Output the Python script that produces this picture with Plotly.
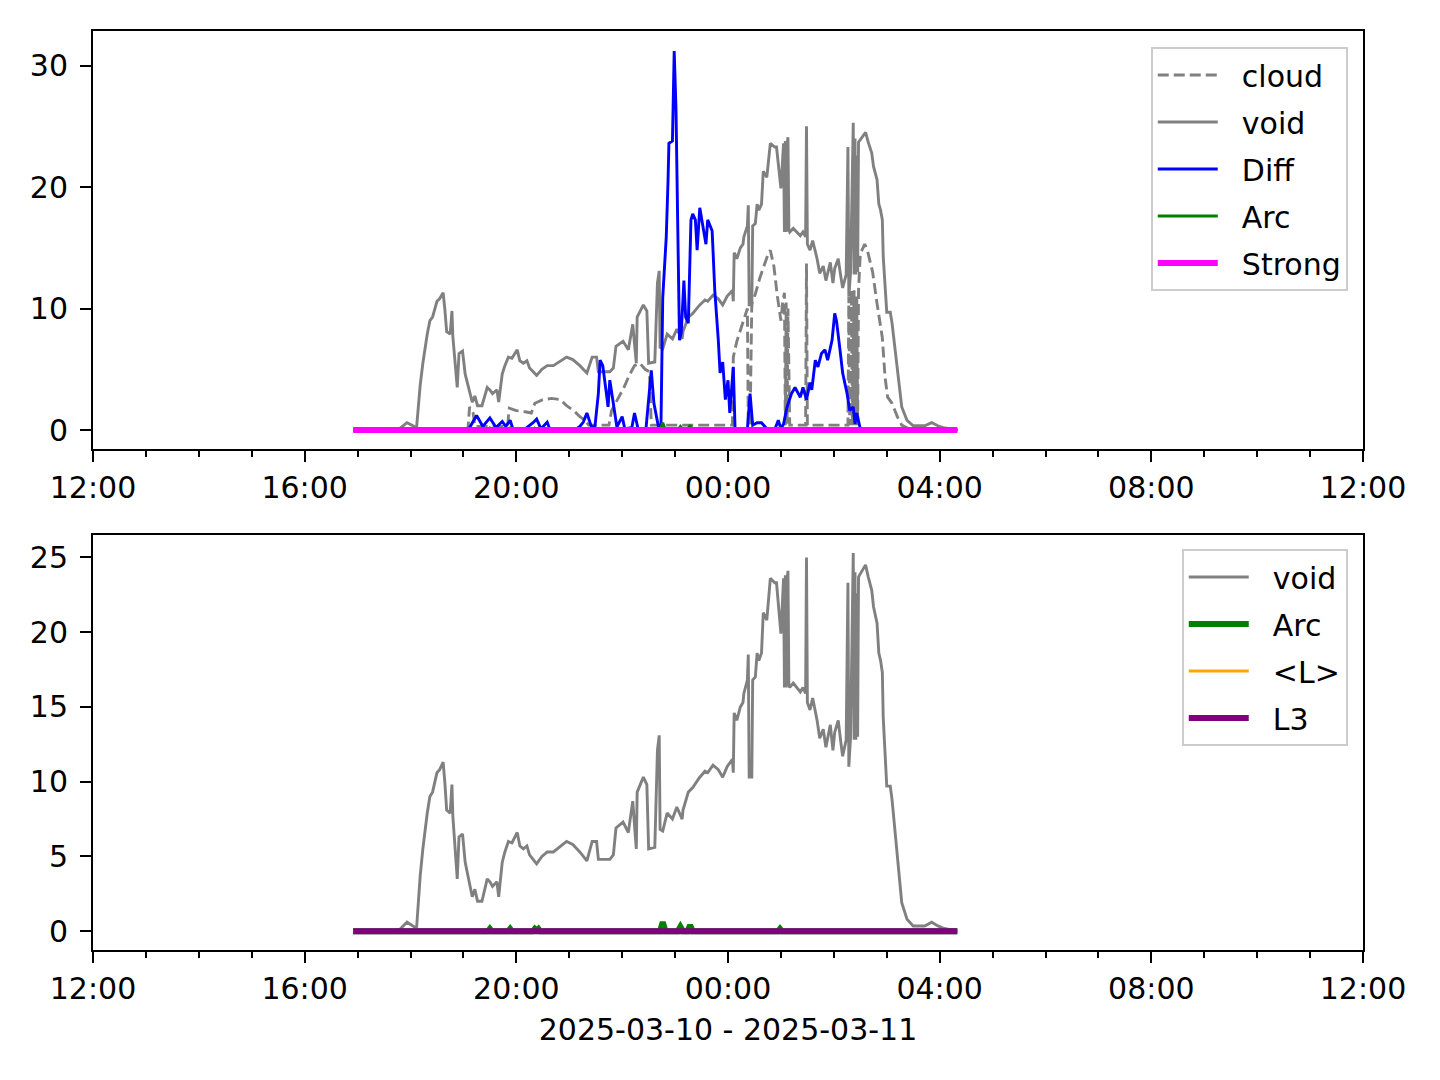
import plotly.graph_objects as go
from datetime import datetime

# ---------------- data ----------------
void_t = ["16:55", "17:40", "17:48", "17:56", "18:05", "18:07", "18:11", "18:14", "18:19", "18:22",
          "18:25", "18:30", "18:33", "18:37", "18:39", "18:41", "18:45", "18:47", "18:48", "18:50",
          "18:53", "18:55", "18:59", "19:02", "19:05", "19:10", "19:13", "19:16", "19:21", "19:27",
          "19:30", "19:33", "19:38", "19:40", "19:44", "19:47", "19:51", "19:55", "20:01", "20:04",
          "20:08", "20:12", "20:15", "20:19", "20:23", "20:29", "20:35", "20:42", "20:49", "20:57",
          "21:04", "21:12", "21:20", "21:26", "21:31", "21:33", "21:46", "21:50", "21:53", "22:01",
          "22:07", "22:11", "22:12", "22:16", "22:17", "22:24", "22:28", "22:30", "22:37", "22:40",
          "22:42", "22:43", "22:46", "22:51", "22:57", "23:02", "23:08", "23:09", "23:15", "23:20",
          "23:28", "23:34", "23:37", "23:43", "23:49", "23:54", "23:59", "00:05", "00:06", "00:07",
          "00:10", "00:14", "00:17", "00:18", "00:22", "00:23", "00:24", "00:27", "00:28", "00:31",
          "00:33", "00:35", "00:38", "00:40", "00:44", "00:48", "00:53", "00:55", "01:00", "01:03",
          "01:04", "01:05", "01:06", "01:07", "01:08", "01:09", "01:10", "01:14", "01:18", "01:22",
          "01:25", "01:28", "01:29", "01:30", "01:33", "01:36", "01:41", "01:44", "01:48", "01:51",
          "01:56", "01:59", "02:01", "02:05", "02:08", "02:10", "02:14", "02:16", "02:17", "02:19",
          "02:22", "02:23", "02:24", "02:25", "02:26", "02:27", "02:28", "02:30", "02:33", "02:36",
          "02:39", "02:43", "02:45", "02:49", "02:51", "02:53", "02:55", "02:56", "03:00", "03:04",
          "03:06", "03:09", "03:13", "03:15", "03:17", "03:23", "03:30", "03:43", "03:51", "03:58",
          "04:04", "04:20"]
void_v = [0.0, 0.0, 0.13, 0.6, 0.27, 0.3, 3.7, 5.5, 7.9, 9.0,
          9.3, 10.6, 10.8, 11.3, 9.9, 8.1, 7.9, 9.8, 7.7, 5.7,
          3.5, 6.3, 6.5, 4.6, 3.7, 2.3, 2.8, 2.0, 2.0, 3.5,
          3.3, 3.0, 3.3, 2.3, 4.6, 5.3, 6.0, 5.9, 6.6, 5.7,
          5.5, 5.7, 5.1, 4.8, 4.5, 5.0, 5.3, 5.3, 5.6, 6.0,
          5.8, 5.3, 4.7, 6.0, 6.0, 4.8, 4.8, 5.1, 6.9, 7.3,
          6.6, 8.1, 8.7, 5.5, 9.3, 10.3, 9.8, 5.5, 5.6, 12.1,
          13.1, 6.8, 6.7, 7.9, 7.5, 8.3, 7.5, 8.1, 9.3, 9.6,
          10.3, 10.7, 10.6, 11.1, 10.8, 10.3, 11.0, 11.5, 10.6, 14.6,
          14.1, 15.0, 15.3, 15.9, 16.8, 18.5, 10.3, 10.3, 16.8, 17.0,
          18.6, 18.1, 18.6, 21.3, 20.8, 23.6, 23.3, 23.3, 19.9, 23.6,
          16.3, 23.8, 16.3, 23.5, 24.1, 16.5, 16.3, 16.6, 16.3, 16.0,
          16.3, 15.9, 25.0, 15.3, 14.8, 15.6, 14.1, 12.9, 13.5, 12.3,
          13.8, 12.1, 13.3, 14.1, 12.6, 11.7, 12.8, 23.3, 11.0, 13.0,
          25.3, 12.8, 24.0, 12.8, 22.6, 13.0, 23.7, 23.9, 24.2, 24.5,
          23.7, 22.8, 21.7, 20.6, 18.6, 18.1, 17.3, 14.3, 9.7, 9.7,
          8.8, 6.8, 4.3, 3.0, 1.9, 0.8, 0.35, 0.35, 0.6, 0.35,
          0.2, 0.0]

cloud_t = ["16:55", "19:05", "19:07", "19:11", "19:13", "19:50", "19:52", "20:00", "20:10", "20:17",
           "20:21", "20:30", "20:40", "20:50", "20:57", "21:05", "21:12", "21:18", "21:22", "21:45",
           "21:48", "21:55", "22:02", "22:08", "22:14", "22:20", "22:26", "22:31", "22:33", "00:05",
           "00:06", "00:10", "00:15", "00:20", "00:22", "00:23", "00:25", "00:27", "00:31", "00:36",
           "00:42", "00:46", "00:48", "00:52", "00:56", "01:00", "01:02", "01:04", "01:05", "01:06",
           "01:07", "01:08", "01:10", "01:28", "01:29", "01:30", "02:16", "02:17", "02:18", "02:20",
           "02:21", "02:23", "02:24", "02:26", "02:27", "02:28", "02:30", "02:35", "02:38", "02:44",
           "02:49", "02:55", "02:58", "03:01", "03:06", "03:12", "03:17", "03:25", "04:20"]
cloud_v = [0.0, 0.0, 1.9, 1.4, 0.3, 0.3, 1.8, 1.6, 1.5, 1.4,
           2.2, 2.5, 2.6, 2.5, 2.0, 1.6, 1.1, 0.8, 0.4, 0.4,
           1.6, 2.6, 3.5, 4.5, 5.3, 5.5, 5.0, 4.8, 0.4, 0.4,
           6.0, 7.3, 8.5, 9.6, 10.0, 0.4, 0.4, 10.4, 11.2, 12.5,
           13.8, 14.6, 14.8, 13.5, 11.0, 9.0, 10.5, 11.3, 0.4, 10.5,
           0.4, 10.0, 0.4, 0.4, 13.7, 0.4, 0.4, 11.0, 0.4, 11.5,
           0.4, 11.5, 0.4, 11.0, 0.4, 11.5, 14.5, 15.3, 14.8, 13.0,
           10.4, 7.6, 4.4, 2.7, 2.2, 1.1, 0.4, 0.1, 0.0]

diff_t = ["16:55", "19:02", "19:07", "19:15", "19:22", "19:30", "19:37", "19:44", "19:48", "19:53",
          "19:56", "20:10", "20:19", "20:23", "20:28", "20:35", "20:38", "21:07", "21:12", "21:16",
          "21:20", "21:25", "21:29", "21:33", "21:35", "21:38", "21:43", "21:44", "21:46", "21:50",
          "21:54", "22:00", "22:03", "22:11", "22:14", "22:18", "22:27", "22:33", "22:36", "22:41",
          "22:44", "22:46", "22:50", "22:52", "22:53", "22:57", "22:59", "23:01", "23:03", "23:05",
          "23:07", "23:10", "23:12", "23:15", "23:18", "23:20", "23:23", "23:25", "23:28", "23:32",
          "23:35", "23:37", "23:42", "23:43", "23:45", "23:49", "23:51", "23:54", "23:57", "00:00",
          "00:02", "00:06", "00:08", "00:22", "00:25", "00:28", "00:33", "00:38", "00:44", "00:53",
          "00:57", "01:00", "01:03", "01:07", "01:12", "01:16", "01:22", "01:25", "01:29", "01:33",
          "01:35", "01:39", "01:42", "01:46", "01:50", "01:53", "01:58", "02:01", "02:03", "02:07",
          "02:10", "02:15", "02:18", "02:22", "02:24", "02:26", "02:30", "02:35", "02:41", "04:20"]
diff_v = [0.0, 0.0, 0.2, 1.2, 0.3, 1.0, 0.2, 0.7, 0.3, 0.8,
          0.1, 0.1, 0.6, 0.9, 0.1, 0.65, 0.05, 0.05, 0.3, 0.65,
          1.4, 0.3, 0.2, 3.0, 5.75, 5.3, 2.5, 1.9, 4.1, 2.0,
          0.25, 1.1, 0.1, 0.2, 1.4, 0.1, 0.1, 4.9, 2.2, 0.3,
          0.3, 10.9, 15.9, 20.5, 23.6, 23.8, 31.2, 26.5, 18.3, 7.4,
          8.0, 12.3, 9.3, 8.8, 17.3, 17.8, 17.3, 14.8, 18.3, 16.7,
          15.3, 17.3, 16.4, 14.8, 11.5, 7.4, 4.7, 5.6, 2.5, 4.1,
          1.4, 5.2, 0.1, 0.1, 3.0, 0.4, 0.6, 0.6, 0.1, 0.05,
          0.8, 0.1, 0.5, 1.9, 3.0, 3.5, 2.7, 3.5, 2.5, 3.9,
          3.3, 5.75, 5.2, 6.3, 6.6, 5.75, 7.4, 9.6, 9.0, 6.6,
          4.7, 3.0, 1.6, 1.9, 0.5, 1.4, 0.1, 0.05, 0.0, 0.0]

arc_t = ["16:55", "19:28", "19:30", "19:32", "19:51", "19:53", "19:55", "20:19", "20:21", "20:23",
         "20:25", "20:27", "22:43", "22:46", "22:49", "23:03", "23:06", "23:09", "23:14", "23:17",
         "23:20", "00:57", "00:59", "01:01", "04:20"]
arc_v = [0.0, 0.0, 0.15, 0.0, 0.0, 0.15, 0.0, 0.0, 0.15, 0.05,
         0.15, 0.0, 0.0, 0.6, 0.0, 0.0, 0.3, 0.0, 0.0, 0.4,
         0.0, 0.0, 0.15, 0.0, 0.0]

strong_t = ["16:55", "04:20"]
strong_v = [0.0, 0.0]
lavg_t = ["16:55", "04:20"]
lavg_v = [0.0, 0.0]
l3_t = ["16:55", "04:20"]
l3_v = [0.0, 0.0]

x_start = "2025-03-10 12:00"
x_end = "2025-03-11 12:00"
x_label = "2025-03-10 - 2025-03-11"


def ts(hm):
    h, m = map(int, hm.split(":"))
    day = 10 if h >= 12 else 11
    return datetime(2025, 3, day, h, m)


def conv(lst):
    return [ts(s) for s in lst]


FONT = "DejaVu Sans"
FS = 30
GAP = "\u00a0\u00a0"
THIN = 2.9
THICK = 6.0

fig = go.Figure()


def add(t, v, name, color, width, ax, leg, grp, dash=None):
    line = dict(color=color, width=width)
    if dash:
        line["dash"] = dash
    fig.add_trace(go.Scatter(x=conv(t), y=v, mode="lines", name=GAP + name, line=line,
                             xaxis="x" if ax == 1 else "x2", yaxis="y" if ax == 1 else "y2",
                             legend=leg, legendgroup=grp))


# top panel
add(cloud_t, cloud_v, "cloud", "#808080", THIN, 1, "legend", "a1", dash="11px,5px")
add(void_t, void_v, "void", "#808080", THIN, 1, "legend", "a2")
add(diff_t, diff_v, "Diff", "#0000ff", THIN, 1, "legend", "a3")
add(arc_t, arc_v, "Arc", "#008000", THIN, 1, "legend", "a4")
add(strong_t, strong_v, "Strong", "#ff00ff", THICK, 1, "legend", "a5")

# bottom panel
add(void_t, void_v, "void", "#808080", THIN, 2, "legend2", "b1")
add(arc_t, arc_v, "Arc", "#008000", THICK, 2, "legend2", "b2")
add(lavg_t, lavg_v, "<L>", "#ffa500", THIN, 2, "legend2", "b3")
add(l3_t, l3_v, "L3", "#800080", THICK, 2, "legend2", "b4")

xax = dict(range=[x_start, x_end], type="date", tick0=x_start, dtick=4 * 3600 * 1000,
           tickformat="%H:%M", ticks="outside", ticklen=11, tickwidth=2, tickcolor="black",
           showline=True, linecolor="black", linewidth=2, mirror=True, showgrid=False,
           zeroline=False, tickfont=dict(family=FONT, size=FS, color="black"),
           minor=dict(dtick=3600 * 1000, ticks="outside", ticklen=6, tickwidth=1.5,
                      tickcolor="black", showgrid=False))
yax = dict(ticks="outside", ticklen=11, tickwidth=2, tickcolor="black",
           showline=True, linecolor="black", linewidth=2, mirror=True, showgrid=False,
           zeroline=False, tickfont=dict(family=FONT, size=FS, color="black"),
           ticklabelstandoff=6)

leg = dict(font=dict(family=FONT, size=FS, color="black"), bgcolor="rgba(255,255,255,0.8)",
           bordercolor="#cccccc", borderwidth=2, xanchor="right", yanchor="top",
           itemwidth=60, tracegroupgap=5)

fig.update_layout(
    width=1440, height=1080,
    margin=dict(l=85, r=85, t=23, b=138),
    paper_bgcolor="white", plot_bgcolor="white",
    font=dict(family=FONT, size=FS, color="black"),
    xaxis=dict(**xax, anchor="y", domain=[0, 1]),
    yaxis=dict(**yax, anchor="x", domain=[0.5452, 1.0], range=[-1.56, 32.85],
               tickvals=[0, 10, 20, 30]),
    xaxis2=dict(**xax, anchor="y2", domain=[0, 1],
                title=dict(text=x_label, font=dict(family=FONT, size=FS, color="black"),
                           standoff=14)),
    yaxis2=dict(**yax, anchor="x2", domain=[0.0, 0.4516], range=[-1.26, 26.5],
                tickvals=[0, 5, 10, 15, 20, 25]),
    legend=dict(**leg, x=0.988, y=0.9826),
    legend2=dict(**leg, x=0.988, y=0.4363),
    showlegend=True,
)

fig.write_html("out.html")
